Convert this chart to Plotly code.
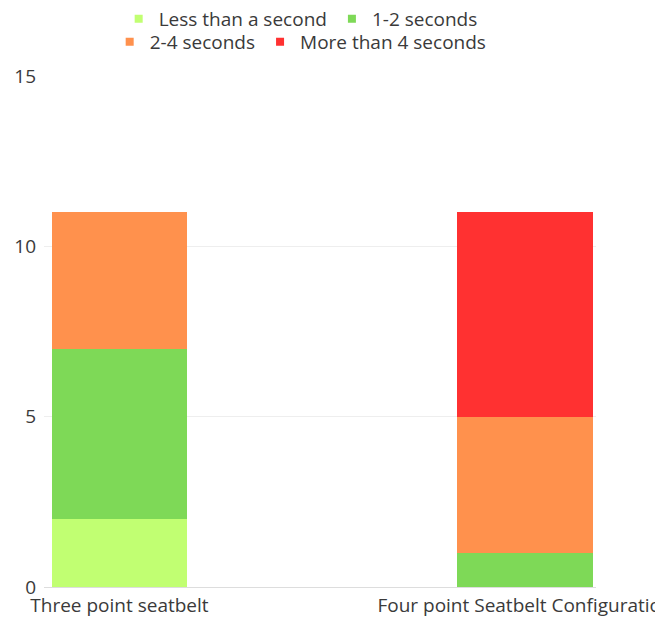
import plotly.graph_objects as go

categories = ["Three point seatbelt", "Four point Seatbelt Configuration"]
series_names = ["Less than a second", "1-2 seconds", "2-4 seconds", "More than 4 seconds"]
less_than_second = [2, 0]
one_two_seconds = [5, 1]
two_four_seconds = [4, 4]
more_than_four = [0, 6]
colors = ["#C1FF72", "#7ED957", "#FF914D", "#FF3131"]
y_ticks = [0, 5, 10, 15]

values = [less_than_second, one_two_seconds, two_four_seconds, more_than_four]
legend_ids = ["legend", "legend", "legend2", "legend2"]

fig = go.Figure()
for name, vals, col in zip(series_names, values, colors):
    fig.add_trace(go.Bar(x=categories, y=vals, name=name, marker=dict(color=col, line=dict(width=0)),
                         width=0.333, showlegend=False))
for name, col, lg in zip(series_names, colors, legend_ids):
    fig.add_trace(go.Scatter(x=[None], y=[None], mode="markers", name=name,
                             marker=dict(symbol="square", size=8, color=col), legend=lg))

font = dict(family="Open Sans, sans-serif", size=19, color="#3a3a3a")
fig.update_layout(
    width=655, height=619,
    barmode="stack",
    paper_bgcolor="white", plot_bgcolor="white",
    margin=dict(l=44, r=59, t=76, b=32),
    font=font,
    legend=dict(orientation="h", x=0.465, xanchor="center", y=1.0, yanchor="top",
                yref="container", font=font, bgcolor="rgba(0,0,0,0)", traceorder="normal"),
    legend2=dict(orientation="h", x=0.465, xanchor="center", y=0.963, yanchor="top",
                 yref="container", font=font, bgcolor="rgba(0,0,0,0)", traceorder="normal"),
    xaxis=dict(range=[-0.186, 1.175], showgrid=False, showline=False, ticks="", tickfont=font,
               automargin=False, ticklabelstandoff=5),
    yaxis=dict(range=[0, 15], tickvals=y_ticks, showgrid=True, gridcolor="#EEEEEE",
               zeroline=True, zerolinecolor="#DDDDDD", zerolinewidth=1, ticks="", tickfont=font,
               automargin=False, ticklabelstandoff=7),
)

fig.write_html("out.html", config={"displayModeBar": False},
               post_script="document.body.style.margin='0';document.body.style.overflow='hidden';")
